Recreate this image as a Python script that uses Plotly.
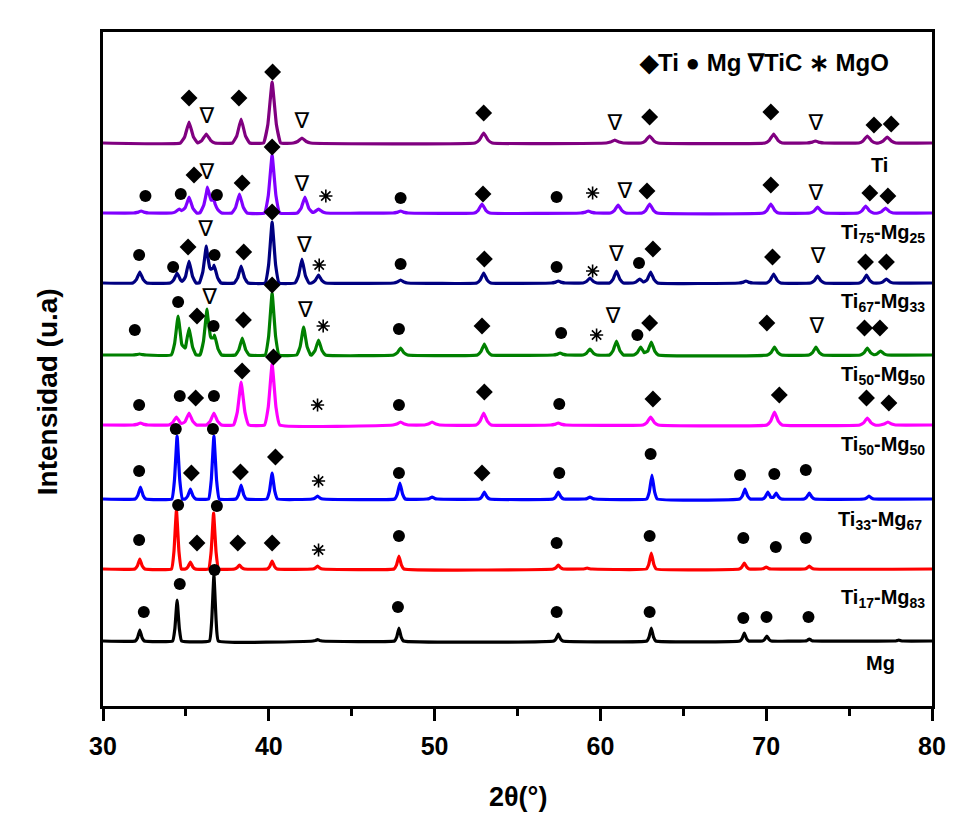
import plotly.graph_objects as go

# ---------------- data ----------------
# peaks: (2theta, height above the trace baseline)
TI_PEAKS = [(35.19, 21), (36.23, 9), (38.33, 24), (40.2, 61), (42.0, 5), (52.96, 10),
            (60.87, 3), (62.97, 7), (70.45, 9), (72.97, 2), (76.1, 7), (77.3, 6)]
TI75_PEAKS = [(32.3, 2), (34.6, 4), (35.19, 16), (36.3, 25), (36.7, 11), (38.23, 19),
              (40.2, 58), (42.18, 16), (43.0, 4), (47.95, 2), (52.86, 9), (59.27, 2),
              (61.07, 8), (62.97, 9), (70.28, 9), (73.1, 6), (76.0, 7), (77.2, 5)]
TI67_PEAKS = [(32.22, 11), (34.47, 10), (35.19, 22), (36.23, 37), (36.7, 18), (38.33, 17),
              (40.2, 61), (42.0, 24), (43.0, 8), (47.95, 3), (52.96, 10), (57.46, 2),
              (59.37, 5), (60.97, 12), (62.37, 4), (63.03, 11), (68.78, 2), (70.45, 9),
              (73.1, 7), (76.05, 8), (77.25, 4)]
TI50B_PEAKS = [(32.2, 1), (34.53, 39), (35.19, 27), (36.27, 46), (36.73, 20), (38.4, 17),
               (40.2, 62), (42.1, 28), (43.0, 15), (47.95, 7), (53.0, 11), (57.57, 2),
               (59.37, 6), (60.97, 14), (62.43, 8), (63.07, 13), (70.5, 8), (73.0, 8),
               (76.1, 7), (76.9, 4)]
TI50A_PEAKS = [(32.26, 2), (34.43, 8), (35.19, 12), (36.69, 12), (38.33, 43), (40.2, 61),
               (47.95, 3), (49.85, 3), (52.96, 12), (57.46, 2), (63.03, 8), (70.5, 13),
               (76.1, 7), (77.34, 3)]
TI33_PEAKS = [(32.26, 12), (34.47, 63), (35.27, 10), (36.69, 63), (38.33, 14), (40.2, 26),
              (42.94, 3), (47.91, 16), (49.85, 2), (53.0, 7), (57.46, 7), (59.37, 2),
              (63.11, 24), (68.72, 10), (70.1, 7), (70.6, 6), (72.6, 6), (76.2, 3)]
TI17_PEAKS = [(32.22, 10), (34.43, 59), (35.27, 7), (36.67, 56), (38.23, 4), (40.2, 8),
              (42.94, 3), (47.85, 13), (57.46, 4), (59.2, 1), (63.07, 16), (68.68, 6),
              (70.0, 2), (72.6, 3)]
MG_PEAKS = [(32.22, 11), (34.47, 41), (36.69, 66), (42.94, 1.5), (47.85, 13), (57.46, 7),
            (63.07, 13), (68.68, 8), (70.04, 5), (72.6, 2), (78.0, 1)]

# peak half-widths at the base (degrees) per sample
HALF_WIDTHS = [0.52, 0.46, 0.42, 0.42, 0.46, 0.32, 0.3, 0.27]

# phase marks: (phase, 2theta, height above the trace baseline)
TI_MARKS = [("Ti", 35.19, 45), ("TiC", 36.27, 26), ("Ti", 38.2, 45), ("Ti", 40.23, 71),
            ("TiC", 42.0, 21), ("Ti", 52.96, 30), ("TiC", 60.87, 19), ("Ti", 62.97, 26),
            ("Ti", 70.28, 31), ("TiC", 72.99, 19), ("Ti", 76.5, 18), ("Ti", 77.54, 19)]
TI75_MARKS = [("Mg", 32.56, 17), ("Mg", 34.69, 19), ("Ti", 35.49, 38), ("TiC", 36.27, 40),
              ("Mg", 36.87, 18), ("Ti", 38.39, 30), ("Ti", 40.2, 66), ("TiC", 42.0, 28),
              ("MgO", 43.44, 17), ("Mg", 47.95, 15), ("Ti", 52.92, 19), ("Mg", 57.36, 16),
              ("MgO", 59.53, 20), ("TiC", 61.47, 21), ("Ti", 62.81, 22), ("Ti", 70.28, 28),
              ("TiC", 72.99, 19), ("Ti", 76.25, 20), ("Ti", 77.34, 17)]
TI67_MARKS = [("Mg", 32.18, 28), ("Mg", 34.23, 16), ("Ti", 35.13, 36), ("TiC", 36.19, 53),
              ("Mg", 36.73, 28), ("Ti", 38.49, 31), ("Ti", 40.2, 71), ("TiC", 42.14, 37),
              ("MgO", 43.04, 18), ("Mg", 47.95, 19), ("Ti", 53.0, 24), ("Mg", 57.36, 16),
              ("MgO", 59.53, 12), ("TiC", 60.97, 28), ("Mg", 62.33, 20), ("Ti", 63.17, 34),
              ("Ti", 70.38, 26), ("TiC", 73.13, 26), ("Ti", 75.99, 21), ("Ti", 77.25, 21)]
TI50B_MARKS = [("Mg", 31.92, 25), ("Mg", 34.53, 53), ("Ti", 35.67, 39), ("TiC", 36.43, 57),
               ("Mg", 36.67, 29), ("Ti", 38.47, 35), ("Ti", 40.2, 70), ("TiC", 42.2, 44),
               ("MgO", 43.28, 29), ("Mg", 47.85, 26), ("Ti", 52.86, 29), ("Mg", 57.63, 22),
               ("MgO", 59.77, 20), ("TiC", 60.77, 38), ("Mg", 62.23, 20), ("Ti", 62.97, 32),
               ("Ti", 70.04, 32), ("TiC", 73.05, 28), ("Ti", 75.93, 27), ("Ti", 76.86, 27)]
TI50A_MARKS = [("Mg", 32.18, 20), ("Mg", 34.63, 29), ("Ti", 35.59, 27), ("Mg", 36.69, 29),
               ("Ti", 38.39, 54), ("Ti", 40.28, 68), ("MgO", 42.94, 20), ("Mg", 47.85, 20),
               ("Ti", 53.0, 33), ("Mg", 57.52, 21), ("Ti", 63.17, 26), ("Ti", 70.79, 30),
               ("Ti", 76.05, 27), ("Ti", 77.4, 22)]
TI33_MARKS = [("Mg", 32.18, 28), ("Mg", 34.39, 70), ("Ti", 35.33, 26), ("Mg", 36.63, 70),
              ("Ti", 38.29, 27), ("Ti", 40.4, 42), ("MgO", 43.0, 18), ("Mg", 47.85, 26),
              ("Ti", 52.86, 26), ("Mg", 57.52, 26), ("Mg", 63.03, 45), ("Mg", 68.42, 24),
              ("Mg", 70.49, 25), ("Mg", 72.39, 29)]
TI17_MARKS = [("Mg", 32.18, 29), ("Mg", 34.53, 64), ("Ti", 35.67, 26), ("Mg", 36.87, 63),
              ("Ti", 38.13, 26), ("Ti", 40.2, 26), ("MgO", 43.0, 19), ("Mg", 47.85, 33),
              ("Mg", 57.36, 26), ("Mg", 62.97, 33), ("Mg", 68.62, 31), ("Mg", 70.58, 22),
              ("Mg", 72.39, 31)]
MG_MARKS = [("Mg", 32.46, 29), ("Mg", 34.63, 57), ("Mg", 36.73, 71), ("Mg", 47.79, 34),
            ("Mg", 57.36, 29), ("Mg", 62.97, 29), ("Mg", 68.62, 23), ("Mg", 70.02, 24),
            ("Mg", 72.55, 24)]

SAMPLE_NAMES = ["Ti", "Ti<sub>75</sub>-Mg<sub>25</sub>", "Ti<sub>67</sub>-Mg<sub>33</sub>",
                "Ti<sub>50</sub>-Mg<sub>50</sub>", "Ti<sub>50</sub>-Mg<sub>50</sub>",
                "Ti<sub>33</sub>-Mg<sub>67</sub>", "Ti<sub>17</sub>-Mg<sub>83</sub>", "Mg"]
OFFSETS = [563, 493, 423, 351, 281, 207, 137, 65]   # stacking offsets
LABEL_X = [76.85, 79.7, 79.7, 79.7, 79.7, 79.5, 79.7, 76.9]
LABEL_Y = [541, 473, 404, 331, 261, 186, 108, 43]
LABEL_ANCHOR = ["center", "right", "right", "right", "right", "right", "right", "center"]
COLORS = ["#800080", "#8000FF", "#000080", "#008000", "#FF00FF", "#0000FF", "#FF0000", "#000000"]

PEAKS = [TI_PEAKS, TI75_PEAKS, TI67_PEAKS, TI50B_PEAKS, TI50A_PEAKS, TI33_PEAKS, TI17_PEAKS, MG_PEAKS]
MARKS = [TI_MARKS, TI75_MARKS, TI67_MARKS, TI50B_MARKS, TI50A_MARKS, TI33_MARKS, TI17_MARKS, MG_MARKS]

X_MIN, X_MAX = 30, 80
SHOULDER_H = 0.3   # relative height of the peak-profile shoulder
SHOULDER_X = 0.5   # shoulder position as a fraction of the half-width


def peak_value(x, peaks, hw):
    s = 0.0
    xs = SHOULDER_X * hw
    for p, h in peaks:
        d = abs(x - p)
        if d < xs:
            s += h - (1 - SHOULDER_H) * h * d / xs
        elif d < hw:
            s += SHOULDER_H * h * (hw - d) / (hw - xs)
    return s


def pattern(peaks, hw, base):
    xs = {float(X_MIN), float(X_MAX)}
    for p, _ in peaks:
        for k in (-1, -SHOULDER_X, 0, SHOULDER_X, 1):
            xs.add(round(p + k * hw, 5))
    xs = sorted(x for x in xs if X_MIN <= x <= X_MAX)
    return xs, [base + peak_value(x, peaks, hw) for x in xs]


fig = go.Figure()

for peaks, hw, base, col in zip(PEAKS, HALF_WIDTHS, OFFSETS, COLORS):
    xs, ys = pattern(peaks, hw, base)
    fig.add_trace(go.Scatter(x=xs, y=ys, mode="lines",
                             line=dict(color=col, width=3.2, shape="spline", smoothing=0.3),
                             showlegend=False, hoverinfo="skip"))

# phase marks
phase_pts = {"Ti": ([], []), "Mg": ([], []), "TiC": ([], []), "MgO": ([], [])}
for marks, base in zip(MARKS, OFFSETS):
    for ph, x, dy in marks:
        phase_pts[ph][0].append(x)
        phase_pts[ph][1].append(base + dy)

fig.add_trace(go.Scatter(x=phase_pts["Ti"][0], y=phase_pts["Ti"][1], mode="markers",
                         marker=dict(symbol="diamond", size=13, color="black"),
                         showlegend=False, hoverinfo="skip"))
fig.add_trace(go.Scatter(x=phase_pts["Mg"][0], y=phase_pts["Mg"][1], mode="markers",
                         marker=dict(symbol="circle", size=12, color="black"),
                         showlegend=False, hoverinfo="skip"))
fig.add_trace(go.Scatter(x=phase_pts["TiC"][0], y=phase_pts["TiC"][1], mode="text",
                         text=["∇"] * len(phase_pts["TiC"][0]), textposition="middle center",
                         textfont=dict(family="DejaVu Sans", size=22, color="black"),
                         showlegend=False, hoverinfo="skip"))
fig.add_trace(go.Scatter(x=phase_pts["MgO"][0], y=phase_pts["MgO"][1], mode="markers",
                         marker=dict(symbol="asterisk-open", size=11, color="black",
                                     line=dict(color="black", width=1.6)),
                         showlegend=False, hoverinfo="skip"))

BOLD = "Arial, Liberation Sans, sans-serif"
annotations = []
for name, lx, ly, anc in zip(SAMPLE_NAMES, LABEL_X, LABEL_Y, LABEL_ANCHOR):
    annotations.append(dict(x=lx, y=ly, xref="x", yref="y", text="<b>" + name + "</b>",
                            showarrow=False, xanchor=anc, yanchor="middle",
                            font=dict(family=BOLD, size=20, color="black")))

annotations.append(dict(x=69.87, y=644, xref="x", yref="y",
                        text="<b>◆Ti ● Mg ∇TiC ∗ MgO</b>", showarrow=False,
                        xanchor="center", yanchor="middle",
                        font=dict(family=BOLD, size=24, color="black")))
annotations.append(dict(x=-0.066, y=0.466, xref="paper", yref="paper",
                        text="<b>Intensidad (u.a)</b>", textangle=-90, showarrow=False,
                        xanchor="center", yanchor="middle",
                        font=dict(family=BOLD, size=28, color="black")))
annotations.append(dict(x=0.5, y=-0.135, xref="paper", yref="paper",
                        text="<b>2θ(°)</b>", showarrow=False,
                        xanchor="center", yanchor="middle",
                        font=dict(family=BOLD, size=27, color="black")))

fig.update_layout(
    width=958, height=837,
    margin=dict(l=103, r=23, t=32, b=131),
    plot_bgcolor="white", paper_bgcolor="white",
    annotations=annotations,
    xaxis=dict(range=[X_MIN, X_MAX], showgrid=False, zeroline=False,
               showline=True, linecolor="black", linewidth=2.5, mirror=True,
               ticks="outside", ticklen=12, tickwidth=2.5, tickcolor="black",
               tickvals=[30, 40, 50, 60, 70, 80], ticklabelstandoff=4,
               minor=dict(tickvals=[35, 45, 55, 65, 75], ticks="outside", ticklen=7,
                          tickwidth=2.5, tickcolor="black"),
               tickfont=dict(family=BOLD, size=25, color="black", weight="bold")),
    yaxis=dict(range=[0, 674], showgrid=False, zeroline=False, showticklabels=False,
               ticks="", showline=True, linecolor="black", linewidth=2.5, mirror=True),
)

fig.write_html("out.html")
